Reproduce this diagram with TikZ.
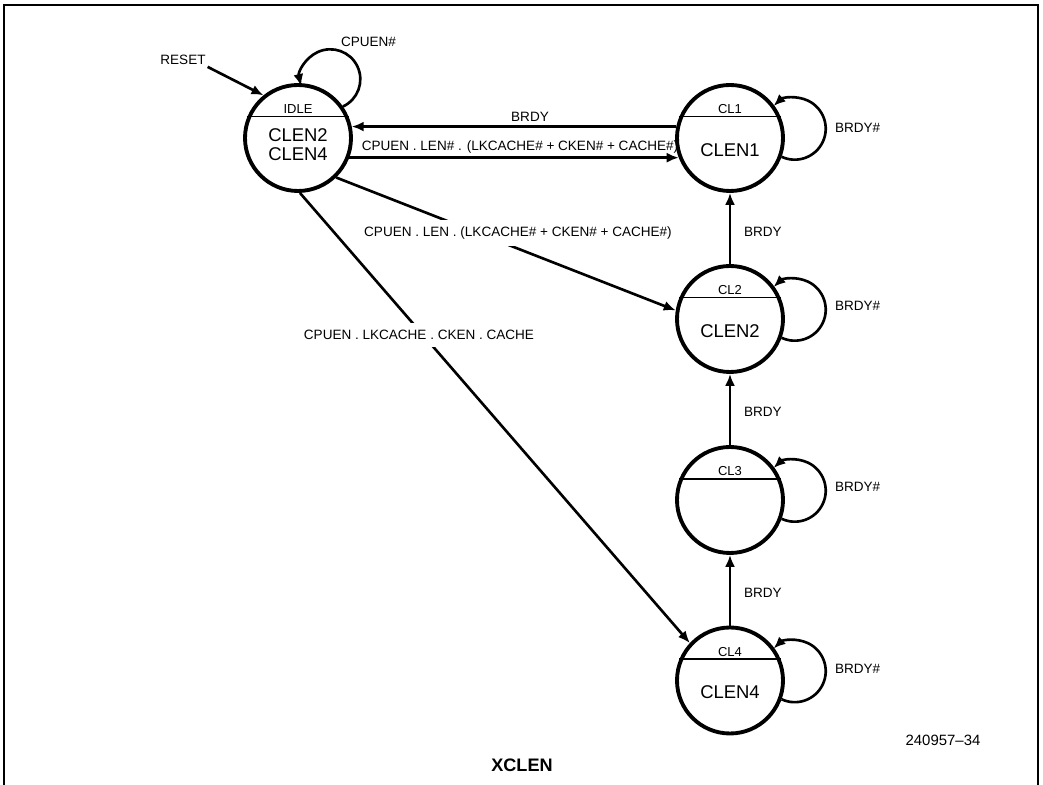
\documentclass[tikz,border=0pt]{standalone}
\usepackage{fontspec}
\setmainfont{Liberation Sans}
\usetikzlibrary{arrows.meta}

\begin{document}
\begin{tikzpicture}[>={Latex[length=2.4mm,width=2mm]}]

    \useasboundingbox (0,0) rectangle (20.86,15.7);

    % --- 1. Frame (open at the bottom) ---
    \draw[line width=1.2pt] (0.08,0) -- (0.08,15.6) -- (20.76,15.6) -- (20.76,0);

    % --- 2. States (thick circles with a divider line) ---
    \tikzset{statecircle/.style={circle, draw, line width=2.2pt, minimum size=2.12cm, inner sep=0pt}}
    \tikzset{divider/.style={line width=1.1pt}}
    \node[statecircle] (st-idle) at (5.96,12.94) {};
    \node[statecircle] (st-cl1) at (14.6,12.94) {};
    \node[statecircle] (st-cl2) at (14.6,9.32) {};
    \node[statecircle] (st-cl3) at (14.6,5.70) {};
    \node[statecircle] (st-cl4) at (14.6,2.09) {};

    \draw[divider] (st-idle.157) -- (st-idle.23);
    \draw[divider] (st-cl1.157) -- (st-cl1.23);
    \draw[divider] (st-cl2.157) -- (st-cl2.23);
    \draw[divider] (st-cl3.157) -- (st-cl3.23);
    \draw[divider] (st-cl4.157) -- (st-cl4.23);

    % --- 3. State texts ---
    \tikzset{toptext/.style={font=\fontsize{7.4}{9}\selectfont, inner sep=1pt}}
    \tikzset{maintext/.style={font=\fontsize{10.5}{10.8}\selectfont, inner sep=1pt, align=center}}
    \node[toptext] (txt-idle) at (5.96,13.51) {IDLE};
    \node[maintext] (txt-idle-main) at (5.96,12.81) {CLEN2\\CLEN4};
    \node[toptext] (txt-cl1) at (14.6,13.51) {CL1};
    \node[maintext] (txt-cl1-main) at (14.6,12.70) {CLEN1};
    \node[toptext] (txt-cl2) at (14.6,9.89) {CL2};
    \node[maintext] (txt-cl2-main) at (14.6,9.08) {CLEN2};
    \node[toptext] (txt-cl3) at (14.6,6.27) {CL3};
    \node[toptext] (txt-cl4) at (14.6,2.66) {CL4};
    \node[maintext] (txt-cl4-main) at (14.6,1.85) {CLEN4};

    % --- 4. Transitions ---
    \tikzset{transarrow/.style={->, line width=1.5pt}}
    \tikzset{selfloop/.style={->, line width=1.5pt}}
    \tikzset{sigtext/.style={font=\fontsize{7.7}{9}\selectfont, inner sep=1pt}}
    \tikzset{masklabel/.style={sigtext, fill=white, inner xsep=2pt, inner ysep=4pt}}

    % Reset and idle loop
    \node[sigtext] (txt-reset) at (3.66,14.5) {RESET};
    \draw[transarrow] (txt-reset.south east) -- (st-idle.129);
    \draw[selfloop] (st-idle.35) arc[start angle=-65, end angle=193, radius=0.6];
    \node[sigtext] (txt-cpuen) at (7.37,14.86) {CPUEN\#};

    % Idle <-> CL1
    \draw[transarrow] (st-cl1.168) -- (st-idle.12);
    \node[sigtext] (txt-brdy-top) at (10.6,13.36) {BRDY};
    \draw[transarrow] (st-idle.-21) -- (st-cl1.-159);
    \node[sigtext] (txt-len-neg) at (10.4,12.76) {CPUEN . LEN\# . (LKCACHE\# + CKEN\# + CACHE\#)};

    % Idle -> CL2 and Idle -> CL4
    \draw[transarrow] (st-idle.-46) -- (st-cl2.171);
    \node[masklabel] (txt-len) at (10.36,11.04) {CPUEN . LEN . (LKCACHE\# + CKEN\# + CACHE\#)};
    \draw[transarrow] (st-idle.-88) -- (st-cl4.137);
    \node[masklabel] (txt-cache) at (8.38,9.0) {CPUEN . LKCACHE . CKEN . CACHE};

    % Chain CL4 -> CL3 -> CL2 -> CL1
    \draw[transarrow] (st-cl2) -- (st-cl1);
    \draw[transarrow] (st-cl3) -- (st-cl2);
    \draw[transarrow] (st-cl4) -- (st-cl3);
    \node[sigtext, anchor=west] (txt-brdy-1) at (14.84,11.06) {BRDY};
    \node[sigtext, anchor=west] (txt-brdy-2) at (14.84,7.46) {BRDY};
    \node[sigtext, anchor=west] (txt-brdy-3) at (14.84,3.84) {BRDY};

    % Wait loops
    \draw[selfloop] (st-cl1.-20) arc[start angle=-115, end angle=133, radius=0.62];
    \draw[selfloop] (st-cl2.-20) arc[start angle=-115, end angle=133, radius=0.62];
    \draw[selfloop] (st-cl3.-20) arc[start angle=-115, end angle=133, radius=0.62];
    \draw[selfloop] (st-cl4.-20) arc[start angle=-115, end angle=133, radius=0.62];
    \node[sigtext, anchor=west] (txt-wait-1) at (16.66,13.14) {BRDY\#};
    \node[sigtext, anchor=west] (txt-wait-2) at (16.66,9.58) {BRDY\#};
    \node[sigtext, anchor=west] (txt-wait-3) at (16.66,5.96) {BRDY\#};
    \node[sigtext, anchor=west] (txt-wait-4) at (16.66,2.32) {BRDY\#};

    % --- 5. Caption and figure number ---
    \node[font=\fontsize{8.5}{10}\selectfont] (txt-fignum) at (18.86,0.9) {240957--34};
    \node[font=\fontsize{10.3}{12}\selectfont\bfseries] (txt-title) at (10.44,0.4) {XCLEN};

\end{tikzpicture}
\end{document}
